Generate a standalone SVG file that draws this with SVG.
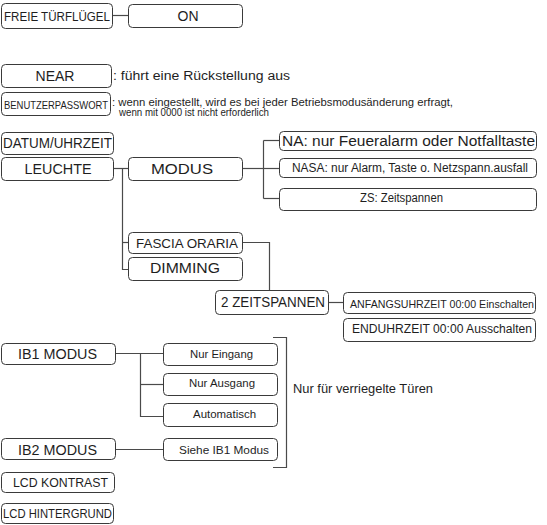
<svg xmlns="http://www.w3.org/2000/svg" width="547" height="525" viewBox="0 0 547 525">
  <style>
    .box { fill: #ffffff; stroke: #3a3a3a; stroke-width: 1; }
    .lbl { font-family: "Liberation Sans", Arial, sans-serif; fill: #1e1e1e; }
    .conn { fill: none; stroke: #4a4a4a; stroke-width: 1.2; }
  </style>
  <rect width="547" height="525" fill="#ffffff"/>

  <!-- connectors -->
  <g id="connectors" class="conn">
    <path d="M113 15.5 H128.5"/>
    <path d="M113.5 168.5 H128.5"/>
    <path d="M122.5 168.5 V269.5 H128.5"/>
    <path d="M122.5 242.5 H128.5"/>
    <path d="M242.5 168.5 H263.5"/>
    <path d="M263.5 140.5 V198.5"/>
    <path d="M263.5 140.5 H279.5"/>
    <path d="M263.5 168.5 H279.5"/>
    <path d="M263.5 198.5 H279.5"/>
    <path d="M242.5 242.5 H269.5 V290.5"/>
    <path d="M328.5 302.5 H343.5"/>
    <path d="M115.5 353.5 H163.5"/>
    <path d="M140.5 353.5 V416.5 H163.5"/>
    <path d="M140.5 384.5 H163.5"/>
    <path d="M115.5 449.5 H163.5"/>
    <path d="M273 337.5 H286.5 V467.5 H273"/>
  </g>

  <g id="freie-tuerfluegel">
    <rect class="box" x="1.5" y="3.5" width="111" height="25" rx="4"/>
    <text class="lbl" x="4" y="21" font-size="12" textLength="106" lengthAdjust="spacingAndGlyphs">FREIE TÜRFLÜGEL</text>
  </g>
  <g id="on">
    <rect class="box" x="128.5" y="4.5" width="114" height="23" rx="4"/>
    <text class="lbl" x="188" y="21" font-size="14" text-anchor="middle">ON</text>
  </g>

  <g id="near">
    <rect class="box" x="1.5" y="64.5" width="110" height="23" rx="4"/>
    <text class="lbl" x="55" y="81" font-size="14" text-anchor="middle">NEAR</text>
    <text class="lbl" x="113" y="80" font-size="12" textLength="177" lengthAdjust="spacingAndGlyphs">: führt eine Rückstellung aus</text>
  </g>

  <g id="benutzerpasswort">
    <rect class="box" x="1.5" y="92.5" width="109" height="23" rx="4"/>
    <text class="lbl" x="4" y="109" font-size="11" textLength="104" lengthAdjust="spacingAndGlyphs">BENUTZERPASSWORT</text>
    <text class="lbl" x="112" y="105.5" font-size="11" textLength="341" lengthAdjust="spacingAndGlyphs">: wenn eingestellt, wird es bei jeder Betriebsmodusänderung erfragt,</text>
    <text class="lbl" x="119" y="116" font-size="11" textLength="150" lengthAdjust="spacingAndGlyphs">wenn mit 0000 ist nicht erforderlich</text>
  </g>

  <g id="datum-uhrzeit">
    <rect class="box" x="1.5" y="132.5" width="112" height="22" rx="4"/>
    <text class="lbl" x="3" y="148" font-size="14" textLength="109" lengthAdjust="spacingAndGlyphs">DATUM/UHRZEIT</text>
  </g>

  <g id="leuchte">
    <rect class="box" x="1.5" y="157.5" width="112" height="23" rx="4"/>
    <text class="lbl" x="58" y="174" font-size="14" text-anchor="middle" textLength="67" lengthAdjust="spacingAndGlyphs">LEUCHTE</text>
  </g>

  <g id="modus">
    <rect class="box" x="128.5" y="157.5" width="114" height="23" rx="4"/>
    <text class="lbl" x="182" y="174" font-size="14" text-anchor="middle" textLength="62" lengthAdjust="spacingAndGlyphs">MODUS</text>
  </g>

  <g id="modus-na">
    <rect class="box" x="279.5" y="131.5" width="257" height="19" rx="4"/>
    <text class="lbl" x="282" y="146" font-size="14" textLength="253" lengthAdjust="spacingAndGlyphs">NA: nur Feueralarm oder Notfalltaste</text>
  </g>
  <g id="modus-nasa">
    <rect class="box" x="279.5" y="158.5" width="257" height="19" rx="4"/>
    <text class="lbl" x="292" y="172" font-size="12" textLength="236" lengthAdjust="spacingAndGlyphs">NASA: nur Alarm, Taste o. Netzspann.ausfall</text>
  </g>
  <g id="modus-zs">
    <rect class="box" x="279.5" y="188.5" width="257" height="22" rx="4"/>
    <text class="lbl" x="401.5" y="202" font-size="12" text-anchor="middle" textLength="83" lengthAdjust="spacingAndGlyphs">ZS: Zeitspannen</text>
  </g>

  <g id="fascia-oraria">
    <rect class="box" x="128.5" y="232.5" width="114" height="21" rx="4"/>
    <text class="lbl" x="187" y="248" font-size="13" text-anchor="middle" textLength="102" lengthAdjust="spacingAndGlyphs">FASCIA ORARIA</text>
  </g>
  <g id="dimming">
    <rect class="box" x="128.5" y="257.5" width="114" height="23" rx="4"/>
    <text class="lbl" x="185" y="273" font-size="14" text-anchor="middle" textLength="70" lengthAdjust="spacingAndGlyphs">DIMMING</text>
  </g>

  <g id="zeitspannen">
    <rect class="box" x="215.5" y="290.5" width="113" height="24" rx="4"/>
    <text class="lbl" x="273" y="307" font-size="14" text-anchor="middle" textLength="104" lengthAdjust="spacingAndGlyphs">2 ZEITSPANNEN</text>
  </g>
  <g id="anfangsuhrzeit">
    <rect class="box" x="343.5" y="292.5" width="192" height="21" rx="4"/>
    <text class="lbl" x="350" y="308" font-size="11" textLength="184" lengthAdjust="spacingAndGlyphs">ANFANGSUHRZEIT 00:00 Einschalten</text>
  </g>
  <g id="enduhrzeit">
    <rect class="box" x="343.5" y="318.5" width="192" height="23" rx="4"/>
    <text class="lbl" x="352" y="333" font-size="12" textLength="180" lengthAdjust="spacingAndGlyphs">ENDUHRZEIT 00:00 Ausschalten</text>
  </g>

  <g id="ib1-modus">
    <rect class="box" x="1.5" y="343.5" width="114" height="21" rx="4"/>
    <text class="lbl" x="57.5" y="359" font-size="14" text-anchor="middle" textLength="79" lengthAdjust="spacingAndGlyphs">IB1 MODUS</text>
  </g>
  <g id="nur-eingang">
    <rect class="box" x="163.5" y="343.5" width="114" height="22" rx="4"/>
    <text class="lbl" x="221.5" y="358" font-size="11" text-anchor="middle" textLength="63" lengthAdjust="spacingAndGlyphs">Nur Eingang</text>
  </g>
  <g id="nur-ausgang">
    <rect class="box" x="163.5" y="373.5" width="114" height="22" rx="4"/>
    <text class="lbl" x="222" y="387" font-size="11" text-anchor="middle" textLength="66" lengthAdjust="spacingAndGlyphs">Nur Ausgang</text>
  </g>
  <g id="automatisch">
    <rect class="box" x="163.5" y="403.5" width="114" height="23" rx="4"/>
    <text class="lbl" x="224.5" y="418" font-size="11" text-anchor="middle" textLength="63" lengthAdjust="spacingAndGlyphs">Automatisch</text>
  </g>
  <g id="ib2-modus">
    <rect class="box" x="1.5" y="438.5" width="114" height="21" rx="4"/>
    <text class="lbl" x="57.5" y="455" font-size="14" text-anchor="middle" textLength="79" lengthAdjust="spacingAndGlyphs">IB2 MODUS</text>
  </g>
  <g id="siehe-ib1">
    <rect class="box" x="163.5" y="438.5" width="114" height="22" rx="4"/>
    <text class="lbl" x="224" y="454" font-size="11" text-anchor="middle" textLength="90" lengthAdjust="spacingAndGlyphs">Siehe IB1 Modus</text>
  </g>

  <g id="verriegelte-tueren">
    <text class="lbl" x="293" y="393" font-size="12" textLength="140" lengthAdjust="spacingAndGlyphs">Nur für verriegelte Türen</text>
  </g>

  <g id="lcd-kontrast">
    <rect class="box" x="1.5" y="472.5" width="113" height="20" rx="4"/>
    <text class="lbl" x="60.5" y="487" font-size="12" text-anchor="middle" textLength="95" lengthAdjust="spacingAndGlyphs">LCD KONTRAST</text>
  </g>
  <g id="lcd-hintergrund">
    <rect class="box" x="1.5" y="503.5" width="112" height="20" rx="4"/>
    <text class="lbl" x="3" y="518" font-size="13" textLength="109" lengthAdjust="spacingAndGlyphs">LCD HINTERGRUND</text>
  </g>
</svg>
